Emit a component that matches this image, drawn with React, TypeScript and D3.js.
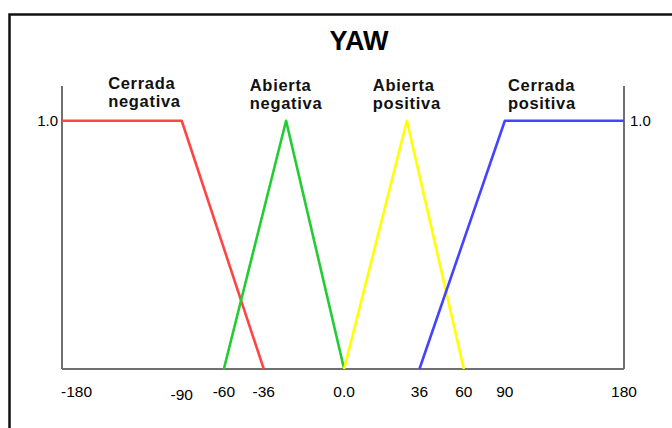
import React from "react";
import * as d3 from "d3";

// fuzzy sets for yaw (degrees -> membership)
const setNames = ["Cerrada negativa", "Abierta negativa", "Abierta positiva", "Cerrada positiva"];
const setColors = ["#ff4444", "#22cc33", "#ffff00", "#4444ff"];
const setDegrees = [
  [-180, -90, -36],
  [-60, -26, 0],
  [0, 30, 60],
  [36, 90, 180],
];
const setMembership = [
  [1, 1, 0],
  [0, 1, 0],
  [0, 1, 0],
  [0, 1, 1],
];
// where each label block is centred (degrees)
const labelAt = [-118, -26, 30, 118];

const tickValues = [-180, -90, -60, -36, 0, 36, 60, 90, 180];
const tickLabels = ["-180", "-90", "-60", "-36", "0.0", "36", "60", "90", "180"];
// the drawing's axis is not evenly spaced: fraction of width for each tick
const tickSpacing = [0, 0.213, 0.288, 0.359, 0.502, 0.636, 0.715, 0.788, 1];

const W = 672, H = 428;
const margin = { left: 62, right: 48, top: 86, bottom: 59 };

export default function App() {
  const ref = React.useRef<SVGSVGElement>(null);

  React.useEffect(() => {
    const svg = d3.select(ref.current);
    svg.selectAll("*").remove();

    const iw = W - margin.left - margin.right;
    const ih = H - margin.top - margin.bottom;

    const x = d3.scaleLinear()
      .domain(tickValues)
      .range(tickSpacing.map(f => margin.left + f * iw));
    const y = d3.scaleLinear().domain([0, 1.14]).range([margin.top + ih, margin.top]);

    svg.append("rect")
      .attr("width", W).attr("height", H).attr("fill", "#fff");

    // outer frame (runs off the right and bottom of the picture)
    svg.append("rect")
      .attr("x", 9.5).attr("y", 14.5)
      .attr("width", 800).attr("height", 600)
      .attr("fill", "none").attr("stroke", "#111").attr("stroke-width", 2.5);

    const font = "Liberation Sans, Arial, sans-serif";

    svg.append("text")
      .attr("x", 359).attr("y", 50)
      .attr("text-anchor", "middle")
      .attr("font-family", font)
      .attr("font-weight", "bold")
      .attr("font-size", 27)
      .text("YAW");

    // axes frame
    const axisColor = "#707070";
    const g = svg.append("g");
    g.append("line")
      .attr("x1", x(-180)).attr("x2", x(180))
      .attr("y1", y(0)).attr("y2", y(0))
      .attr("stroke", axisColor).attr("stroke-width", 2);
    [-180, 180].forEach(v => {
      g.append("line")
        .attr("x1", x(v)).attr("x2", x(v))
        .attr("y1", y(0)).attr("y2", y(1.14))
        .attr("stroke", axisColor).attr("stroke-width", 2);
    });

    g.append("text")
      .attr("x", x(-180) - 4).attr("y", y(1))
      .attr("dy", "0.35em").attr("text-anchor", "end")
      .attr("font-family", font).attr("font-size", 15)
      .text("1.0");
    g.append("text")
      .attr("x", x(180) + 6).attr("y", y(1))
      .attr("dy", "0.35em").attr("text-anchor", "start")
      .attr("font-family", font).attr("font-size", 15)
      .text("1.0");

    g.selectAll("text.tick")
      .data(tickValues)
      .join("text")
      .attr("class", "tick")
      .attr("x", (d, i) => i === 0 ? x(d) - 1 : x(d))
      .attr("y", d => y(0) + (d === -90 ? 31 : 28))
      .attr("text-anchor", (d, i) => i === 0 ? "start" : "middle")
      .attr("font-family", font).attr("font-size", 15.5)
      .text((d, i) => tickLabels[i]);

    // membership functions
    const line = d3.line<[number, number]>().x(d => x(d[0])).y(d => y(d[1]));
    setDegrees.forEach((degs, i) => {
      const pts = degs.map((v, j) => [v, setMembership[i][j]] as [number, number]);
      svg.append("path")
        .attr("d", line(pts))
        .attr("fill", "none")
        .attr("stroke", setColors[i])
        .attr("stroke-width", 2.6)
        .attr("stroke-linejoin", "round");
    });

    // set labels, two lines, left-aligned block centred on labelAt
    setNames.forEach((name, i) => {
      const words = name.split(" ");
      const t = svg.append("text")
        .attr("font-family", font)
        .attr("font-weight", "bold")
        .attr("font-size", 16.5)
        .attr("letter-spacing", 0.7)
        .attr("fill", "#111");
      const baseY = i === 0 ? 89 : 91;
      words.forEach((w, k) => {
        t.append("tspan").attr("x", 0).attr("y", baseY + k * 18).text(w);
      });
      const bw = (t.node() as SVGTextElement).getBBox().width;
      t.attr("transform", `translate(${x(labelAt[i]) - bw / 2},0)`);
    });
  }, []);

  return (
    <svg ref={ref} width={W} height={H}
      style={{ position: "absolute", left: 0, top: 0, display: "block" }} />
  );
}
